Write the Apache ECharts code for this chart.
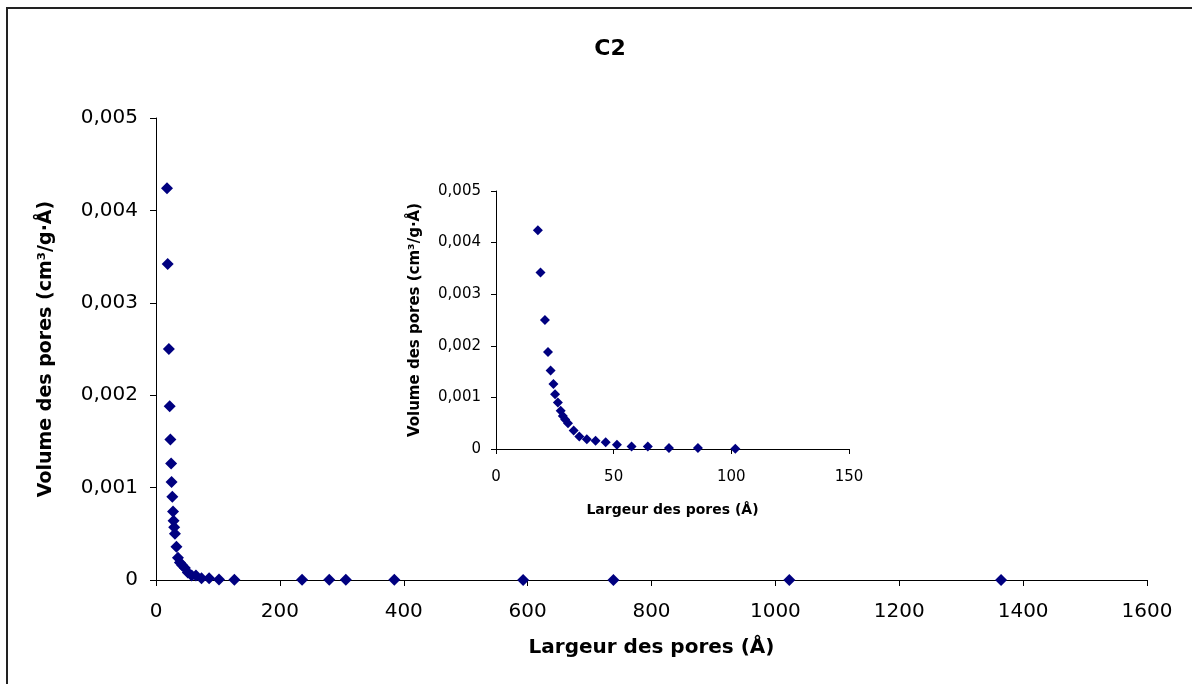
<!DOCTYPE html>
<html>
<head>
<meta charset="utf-8">
<script src="https://cdn.jsdelivr.net/npm/echarts@6/dist/echarts.min.js"></script>
<style>
	html, body { margin: 0; padding: 0; background: #fff; }
	#chart { width: 1192px; height: 684px; }
</style>
</head>
<body>
<div id="chart"></div>
<script>
// largeur des pores (Å)
var poreWidth = [17.8, 18.9, 20.8, 22.1, 23.2, 24.4, 25.1, 26.3, 27.5, 28.4, 29.4, 30.6,
	33.0, 35.4, 38.6, 42.3, 46.6, 51.4, 57.6, 64.5, 73.5, 85.8, 101.7,
	126.5, 235.8, 279.7, 306.5, 384.8, 592.7, 738.5, 1022.5, 1364.4];
// volume des pores (cm3/g.Å)
var poreVolume = [0.00424, 0.00342, 0.00250, 0.00188, 0.00152, 0.00126, 0.00106, 0.00090, 0.00074, 0.00064, 0.00057, 0.00050,
	0.00036, 0.00024, 0.00019, 0.00016, 0.00013, 0.00008, 0.00005, 0.00005, 0.00002, 0.00002, 0.000005,
	0.000004, 0.000003, 0.000003, 0.000002, 0.000002, 0.000001, 0.000001, 0.000001, 0.000001];
// nombre de points dans le zoom
var insetCount = 23;

var mainXTicks = [0, 1600, 200];
var mainYTicks = [0, 0.005, 0.001];
var insetXTicks = [0, 150, 50];

var mainData = poreWidth.map(function(x, i) { return [x, poreVolume[i]]; });
var insetData = mainData.slice(0, insetCount);

function fmtY(v) {
	return v === 0 ? '0' : v.toFixed(3).replace('.', ',');
}

function fmtX(v) {
	return String(v);
}

var font = 'DejaVu Sans';

function axisStyle() {
	return {
		show: true,
		onZero: false,
		lineStyle: { color: '#000', width: 1 }
	};
}

var chart = echarts.init(document.getElementById('chart'));
chart.setOption({
	backgroundColor: '#fff',
	animation: false,
	title: {
		text: 'C2',
		left: 605,
		top: 33,
		textAlign: 'center',
		textStyle: { fontFamily: font, fontWeight: 'bold', fontSize: 22, color: '#000' }
	},
	graphic: [{
		type: 'rect',
		shape: { x: 7, y: 8, width: 1200, height: 700 },
		style: { fill: 'none', stroke: '#222', lineWidth: 2 },
		silent: true
	}],
	grid: [
		{ left: 156, top: 118, width: 991, height: 462, show: false },
		{ left: 496, top: 191, width: 353, height: 258, show: false }
	],
	xAxis: [{
		gridIndex: 0,
		type: 'value',
		min: mainXTicks[0],
		max: mainXTicks[1],
		interval: mainXTicks[2],
		name: 'Largeur des pores (Å)',
		nameLocation: 'middle',
		nameGap: 58,
		nameTextStyle: { fontFamily: font, fontWeight: 'bold', fontSize: 20, color: '#000' },
		axisLine: axisStyle(),
		axisTick: { show: true, length: 6, lineStyle: { color: '#000' } },
		axisLabel: { fontFamily: font, fontSize: 20, color: '#000', margin: 22, formatter: fmtX },
		splitLine: { show: false }
	}, {
		gridIndex: 1,
		type: 'value',
		min: insetXTicks[0],
		max: insetXTicks[1],
		interval: insetXTicks[2],
		name: 'Largeur des pores (Å)',
		nameLocation: 'middle',
		nameGap: 54,
		nameTextStyle: { fontFamily: font, fontWeight: 'bold', fontSize: 14, color: '#000' },
		axisLine: axisStyle(),
		axisTick: { show: true, length: 5, lineStyle: { color: '#000' } },
		axisLabel: { fontFamily: font, fontSize: 15, color: '#000', margin: 21, formatter: fmtX },
		splitLine: { show: false }
	}],
	yAxis: [{
		gridIndex: 0,
		type: 'value',
		min: mainYTicks[0],
		max: mainYTicks[1],
		interval: mainYTicks[2],
		name: 'Volume des pores (cm³/g·Å)',
		nameLocation: 'middle',
		nameGap: 100,
		nameTextStyle: { fontFamily: font, fontWeight: 'bold', fontSize: 19, color: '#000' },
		axisLine: axisStyle(),
		axisTick: { show: true, length: 6, lineStyle: { color: '#000' } },
		axisLabel: { fontFamily: font, fontSize: 20, color: '#000', margin: 18, formatter: fmtY },
		splitLine: { show: false }
	}, {
		gridIndex: 1,
		type: 'value',
		min: mainYTicks[0],
		max: mainYTicks[1],
		interval: mainYTicks[2],
		name: 'Volume des pores (cm³/g·Å)',
		nameLocation: 'middle',
		nameGap: 73,
		nameTextStyle: { fontFamily: font, fontWeight: 'bold', fontSize: 15, color: '#000' },
		axisLine: axisStyle(),
		axisTick: { show: true, length: 5, lineStyle: { color: '#000' } },
		axisLabel: { fontFamily: font, fontSize: 15, color: '#000', margin: 15, formatter: fmtY },
		splitLine: { show: false }
	}],
	series: [{
		name: 'C2',
		type: 'scatter',
		xAxisIndex: 0,
		yAxisIndex: 0,
		symbol: 'diamond',
		symbolSize: [12, 12],
		itemStyle: { color: '#000080', opacity: 1 },
		data: mainData
	}, {
		name: 'C2 zoom',
		type: 'scatter',
		xAxisIndex: 1,
		yAxisIndex: 1,
		symbol: 'diamond',
		symbolSize: [10, 10],
		itemStyle: { color: '#000080', opacity: 1 },
		data: insetData
	}]
});
</script>
</body>
</html>
